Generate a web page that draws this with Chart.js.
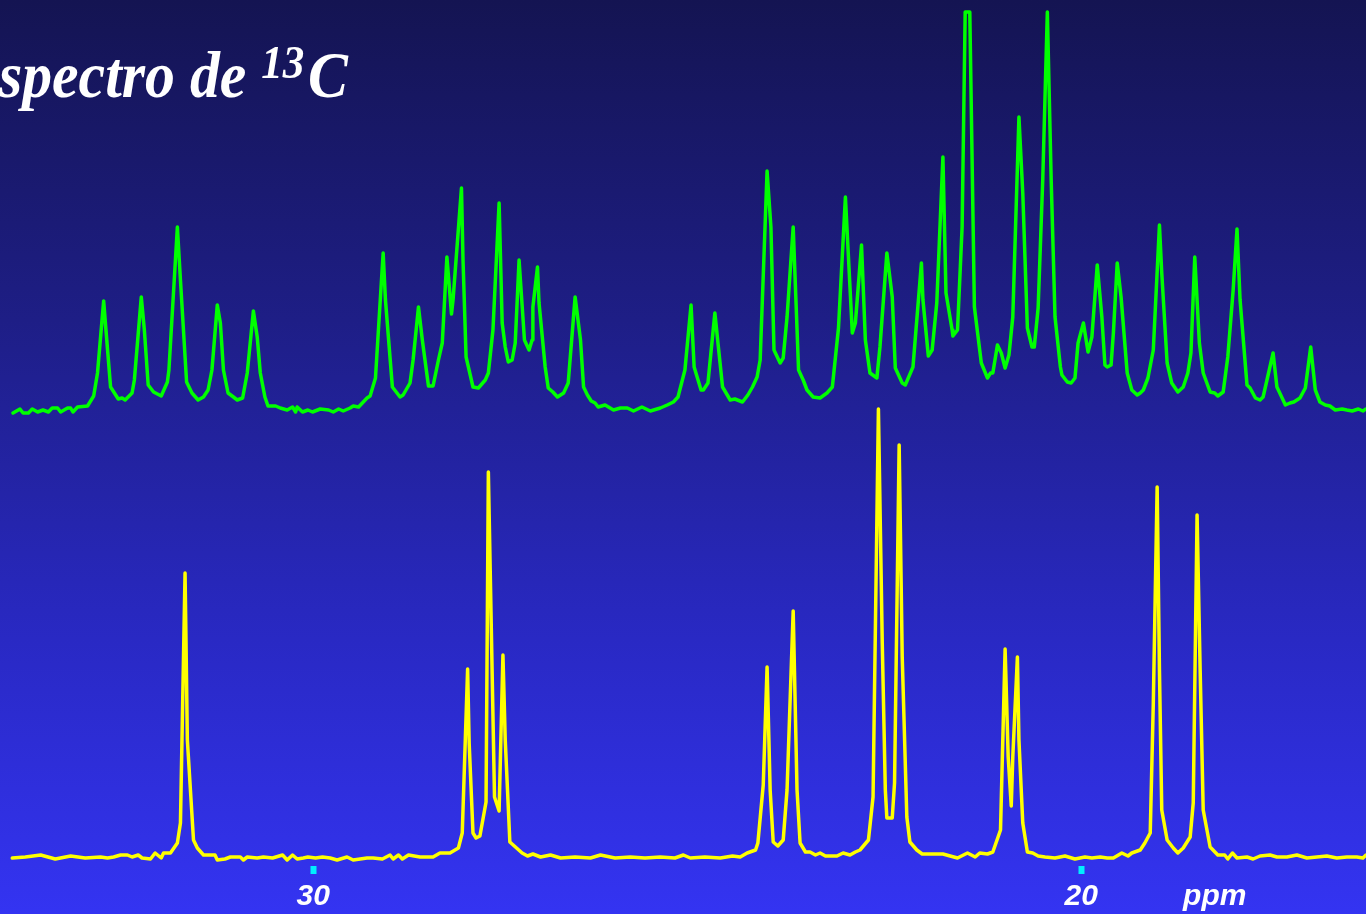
<!DOCTYPE html>
<html>
<head>
<meta charset="utf-8">
<title>Espectro de 13C</title>
<script src="https://cdn.jsdelivr.net/npm/chart.js"></script>
<style>
  html, body { margin: 0; padding: 0; width: 1366px; height: 914px; overflow: hidden; }
  body {
    position: relative;
    background: linear-gradient(to bottom, #141452 0%, #1e1e86 35%, #2929c4 70%, #3434f2 100%);
  }
  #wrap { position: absolute; left: 0; top: 0; width: 1366px; height: 914px; }
  #title {
    position: absolute; left: -41px; top: 38px; margin: 0;
    color: #ffffff; white-space: nowrap; line-height: 1;
    font: italic bold 65px "Liberation Serif", "Times New Roman", serif;
    transform: scaleX(0.92); transform-origin: 0 0;
  }
  #title sup { font-size: 0.72em; line-height: 0; vertical-align: 19px; margin-right: 4px; }
</style>
</head>
<body>
<div id="wrap"><canvas id="nmr"></canvas></div>
<h1 id="title">Espectro de <sup>13</sup>C</h1>
<script>
// Proton-coupled 13C spectrum: [chemical shift (ppm), intensity above baseline]
const coupledSpectrum = [
  [33.91,-3],[33.82,1],[33.78,-3],[33.71,-3],[33.66,1],[33.59,-2],[33.52,0],[33.45,-2],[33.40,2],[33.33,2],
  [33.29,-2],[33.20,2],[33.16,2],[33.13,-2],[33.07,3],[32.94,4],[32.86,14],[32.81,37],[32.73,109],[32.70,80],
  [32.64,23],[32.54,11],[32.49,12],[32.45,10],[32.36,17],[32.33,30],[32.24,113],[32.20,80],[32.15,25],[32.08,18],
  [31.98,14],[31.90,28],[31.88,40],[31.77,183],[31.73,130],[31.65,28],[31.58,17],[31.50,10],[31.43,13],[31.37,20],
  [31.32,40],[31.25,105],[31.21,87],[31.17,40],[31.11,17],[31.04,13],[30.99,10],[30.92,12],[30.86,37],[30.78,99],
  [30.73,73],[30.69,37],[30.63,13],[30.59,4],[30.49,4],[30.43,2],[30.34,0],[30.27,3],[30.23,-2],[30.21,3],
  [30.14,-2],[30.07,0],[30.01,-2],[29.91,1],[29.80,0],[29.74,-2],[29.67,1],[29.61,-1],[29.52,2],[29.48,4],
  [29.41,3],[29.30,12],[29.26,14],[29.19,32],[29.09,157],[29.06,110],[28.97,23],[28.91,17],[28.87,13],[28.83,15],
  [28.74,27],[28.70,50],[28.63,103],[28.58,70],[28.50,24],[28.44,24],[28.37,50],[28.32,67],[28.26,153],[28.20,96],
  [28.18,110],[28.07,222],[28.05,150],[28.01,53],[27.92,23],[27.85,22],[27.76,30],[27.72,37],[27.66,80],[27.58,207],
  [27.54,87],[27.50,63],[27.46,48],[27.41,50],[27.37,67],[27.32,150],[27.25,70],[27.19,60],[27.15,70],[27.14,103],
  [27.08,143],[27.06,107],[26.98,43],[26.94,22],[26.88,18],[26.82,13],[26.74,17],[26.68,27],[26.59,113],[26.52,70],
  [26.48,23],[26.43,15],[26.38,9],[26.33,7],[26.29,3],[26.20,5],[26.09,0],[26.00,2],[25.91,2],[25.83,-1],
  [25.72,3],[25.61,-1],[25.48,2],[25.39,5],[25.31,8],[25.25,13],[25.16,40],[25.08,105],[25.04,43],[24.95,20],
  [24.92,20],[24.86,27],[24.77,97],[24.67,23],[24.57,10],[24.51,11],[24.41,8],[24.34,15],[24.28,23],[24.22,33],
  [24.18,50],[24.09,239],[24.04,183],[24.00,60],[23.92,47],[23.88,52],[23.83,93],[23.75,183],[23.68,40],[23.62,30],
  [23.57,20],[23.49,13],[23.40,12],[23.31,17],[23.24,23],[23.16,82],[23.07,213],[22.98,77],[22.94,87],[22.86,165],
  [22.81,70],[22.75,37],[22.66,32],[22.62,63],[22.53,157],[22.46,113],[22.42,42],[22.33,27],[22.29,25],[22.19,43],
  [22.08,147],[22.06,110],[21.99,54],[21.94,60],[21.88,107],[21.80,253],[21.76,117],[21.68,80],[21.67,74],[21.61,80],
  [21.55,183],[21.51,398],[21.45,398],[21.39,103],[21.30,47],[21.22,32],[21.18,37],[21.15,37],[21.09,65],[21.04,57],
  [20.99,42],[20.94,55],[20.89,93],[20.81,293],[20.76,217],[20.70,82],[20.64,63],[20.61,63],[20.56,102],[20.50,230],
  [20.44,398],[20.39,230],[20.34,93],[20.27,43],[20.25,35],[20.18,28],[20.13,27],[20.08,32],[20.04,67],[19.97,87],
  [19.91,58],[19.86,73],[19.79,145],[19.73,93],[19.69,45],[19.66,43],[19.61,45],[19.58,77],[19.53,147],[19.48,113],
  [19.40,37],[19.34,20],[19.27,15],[19.23,17],[19.19,20],[19.13,32],[19.06,60],[18.98,185],[18.95,137],[18.88,47],
  [18.82,27],[18.74,18],[18.67,23],[18.61,37],[18.57,57],[18.52,153],[18.46,67],[18.41,37],[18.32,18],[18.26,17],
  [18.22,14],[18.15,18],[18.09,53],[18.02,120],[17.97,181],[17.93,110],[17.84,25],[17.80,22],[17.73,12],[17.67,10],
  [17.63,13],[17.50,57],[17.45,23],[17.37,10],[17.34,5],[17.28,7],[17.23,8],[17.15,12],[17.08,22],[17.01,63],
  [16.95,20],[16.89,8],[16.82,5],[16.76,4],[16.69,0],[16.60,1],[16.54,0],[16.47,-1],[16.39,1],[16.33,-1],[16.29,1]
];

// Proton-decoupled 13C spectrum: [chemical shift (ppm), intensity above baseline]
const decoupledSpectrum = [
  [33.92,-1],[33.75,0],[33.55,2],[33.36,-2],[33.16,1],[32.97,-1],[32.77,0],[32.68,-1],[32.60,0],[32.51,2],
  [32.42,2],[32.36,0],[32.28,2],[32.23,-1],[32.12,-2],[32.06,4],[31.98,-1],[31.95,4],[31.86,4],[31.77,14],
  [31.73,34],[31.67,284],[31.64,117],[31.56,17],[31.51,9],[31.43,2],[31.28,2],[31.25,-3],[31.15,-2],[31.08,0],
  [30.95,0],[30.91,-3],[30.86,0],[30.73,-1],[30.65,0],[30.53,-1],[30.40,2],[30.34,-3],[30.27,2],[30.21,-2],
  [30.13,-1],[30.07,0],[29.97,-1],[29.88,0],[29.78,-1],[29.69,-3],[29.56,0],[29.48,-3],[29.30,-1],[29.22,-1],
  [29.10,-2],[29.00,2],[28.96,-2],[28.89,2],[28.84,-2],[28.76,2],[28.61,0],[28.44,0],[28.35,4],[28.22,4],
  [28.11,9],[28.06,24],[27.99,188],[27.97,114],[27.92,24],[27.88,19],[27.83,21],[27.75,55],[27.72,385],[27.64,60],
  [27.58,46],[27.53,202],[27.50,117],[27.44,15],[27.28,4],[27.21,1],[27.14,3],[27.04,0],[26.91,2],[26.78,-1],
  [26.59,0],[26.39,-1],[26.26,2],[26.07,-1],[25.87,0],[25.68,-1],[25.48,0],[25.29,-1],[25.18,2],[25.09,-1],
  [24.90,0],[24.70,-1],[24.54,1],[24.44,0],[24.35,4],[24.24,7],[24.21,14],[24.14,72],[24.09,190],[24.05,67],
  [24.01,15],[23.95,11],[23.88,17],[23.83,67],[23.75,246],[23.70,67],[23.66,14],[23.59,5],[23.53,5],[23.46,2],
  [23.40,4],[23.33,1],[23.18,1],[23.10,4],[23.01,2],[22.94,5],[22.88,7],[22.77,17],[22.71,60],[22.64,448],
  [22.59,214],[22.55,67],[22.53,39],[22.46,39],[22.43,74],[22.37,412],[22.33,200],[22.27,40],[22.23,15],[22.14,7],
  [22.07,3],[21.94,3],[21.80,3],[21.61,-1],[21.48,4],[21.38,0],[21.32,4],[21.22,3],[21.15,5],[21.05,27],
  [20.99,208],[20.95,100],[20.91,51],[20.89,100],[20.83,200],[20.81,117],[20.76,34],[20.70,5],[20.63,4],[20.56,1],
  [20.47,0],[20.34,-1],[20.21,1],[20.08,-2],[19.95,0],[19.86,-1],[19.75,0],[19.66,-1],[19.58,-1],[19.47,4],
  [19.39,1],[19.34,4],[19.23,7],[19.17,14],[19.10,24],[19.06,154],[19.01,370],[18.98,187],[18.95,47],[18.88,17],
  [18.80,9],[18.74,4],[18.67,9],[18.58,20],[18.54,54],[18.49,342],[18.45,187],[18.41,47],[18.32,10],[18.22,2],
  [18.13,2],[18.09,-2],[18.03,4],[17.97,-1],[17.84,0],[17.76,-2],[17.67,1],[17.54,2],[17.45,0],[17.32,0],
  [17.19,2],[17.06,-1],[16.93,0],[16.80,1],[16.67,-1],[16.54,0],[16.41,0],[16.33,-1],[16.29,2]
];

// Shift axis: labelled positions and their texts
const shiftTicks = [30, 20, 18.26];
const shiftTickLabels = ['30', '20', 'ppm'];
const shiftRange = [16.29, 34.08];

const toPoints = rows => rows.map(([ppm, intensity]) => ({ x: ppm, y: intensity }));

new Chart(document.getElementById('nmr'), {
  type: 'line',
  data: {
    datasets: [
      {
        label: 'acoplado',
        data: toPoints(coupledSpectrum),
        yAxisID: 'yCoupled',
        borderColor: '#00ff00',
        borderWidth: 3.5,
        borderJoinStyle: 'round',
        borderCapStyle: 'round',
        pointRadius: 0,
        tension: 0,
        fill: false
      },
      {
        label: 'desacoplado',
        data: toPoints(decoupledSpectrum),
        yAxisID: 'yDecoupled',
        borderColor: '#ffff00',
        borderWidth: 3.5,
        borderJoinStyle: 'round',
        borderCapStyle: 'round',
        pointRadius: 0,
        tension: 0,
        fill: false
      }
    ]
  },
  options: {
    responsive: true,
    maintainAspectRatio: false,
    animation: false,
    events: [],
    layout: { padding: 0 },
    plugins: { legend: { display: false }, tooltip: { enabled: false }, title: { display: false } },
    scales: {
      x: {
        type: 'linear',
        reverse: true,
        min: shiftRange[0],
        max: shiftRange[1],
        afterBuildTicks: scale => { scale.ticks = shiftTicks.map(v => ({ value: v })); },
        afterFit: scale => { scale.height = 48; },
        border: { display: false },
        grid: {
          display: true,
          drawOnChartArea: false,
          drawTicks: true,
          tickLength: 8,
          tickWidth: 6,
          tickColor: ctx => (ctx.tick && shiftTickLabels[shiftTicks.indexOf(ctx.tick.value)] === 'ppm') ? 'rgba(0,0,0,0)' : '#00eeff'
        },
        ticks: {
          autoSkip: false,
          maxRotation: 0,
          padding: 5,
          color: '#ffffff',
          font: { family: '"Liberation Sans", Arial, sans-serif', size: 30, style: 'italic', weight: 'bold' },
          callback: value => {
            const i = shiftTicks.indexOf(value);
            return i >= 0 ? shiftTickLabels[i] : '';
          }
        }
      },
      yCoupled: {
        type: 'linear', display: false, min: -456, max: 410
      },
      yDecoupled: {
        type: 'linear', display: false, min: -9, max: 857
      }
    }
  }
});
</script>
</body>
</html>
